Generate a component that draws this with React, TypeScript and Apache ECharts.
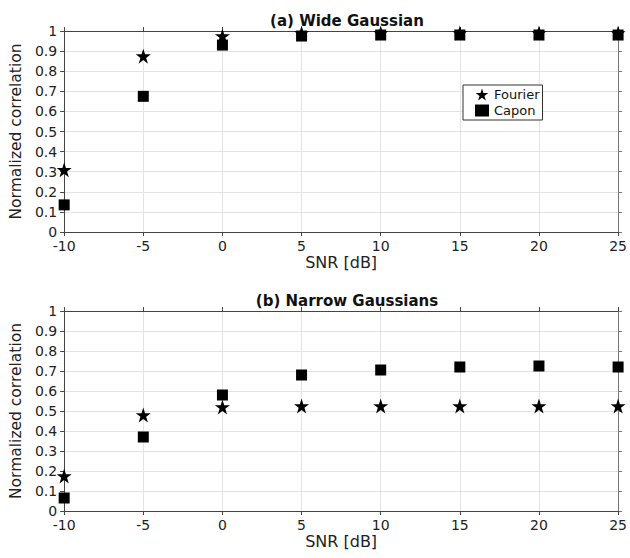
import React, { useEffect, useRef } from "react";
import * as echarts from "echarts";

const snr = [-10, -5, 0, 5, 10, 15, 20, 25];
const wideFourier = [0.31, 0.875, 0.975, 0.99, 0.99, 0.99, 0.99, 0.99];
const wideCapon = [0.135, 0.675, 0.93, 0.975, 0.98, 0.98, 0.98, 0.98];
const narrowFourier = [0.175, 0.48, 0.52, 0.525, 0.525, 0.525, 0.525, 0.525];
const narrowCapon = [0.065, 0.37, 0.58, 0.68, 0.705, 0.72, 0.725, 0.72];
const titles = ["(a) Wide Gaussian", "(b) Narrow Gaussians"];

const FONT = "'DejaVu Sans', sans-serif";
const STAR =
  "path://M50,0 L61.2,34.5 L97.6,34.5 L68.2,55.9 L79.4,90.5 L50,69.1 L20.6,90.5 L31.8,55.9 L2.4,34.5 L38.8,34.5 Z";

const pair = (ys: number[]) => snr.map((x, i) => [x, ys[i]]);

export default function App() {
  const ref = useRef<HTMLDivElement>(null);
  useEffect(() => {
    if (!ref.current) return;
    const chart = echarts.init(ref.current, null, { renderer: "svg" });
    const grids = [
      { left: 63, right: 8, top: 31, height: 201 },
      { left: 63, right: 8, top: 311, height: 200 },
    ];
    const xAxis: any[] = [];
    const yAxis: any[] = [];
    grids.forEach((_, g) => {
      xAxis.push({
        type: "value",
        gridIndex: g,
        min: -10,
        max: 25,
        interval: 5,
        position: "bottom",
        name: "SNR [dB]",
        nameLocation: "middle",
        nameGap: 22,
        nameTextStyle: { fontFamily: FONT, fontSize: 16, color: "#222" },
        axisLine: { show: true, onZero: false, lineStyle: { color: "#444", width: 1 } },
        axisTick: { show: true, length: 4, lineStyle: { color: "#444" } },
        axisLabel: { fontFamily: FONT, fontSize: 14, lineHeight: 12, color: "#222", margin: 8 },
        splitLine: { show: true, lineStyle: { color: "#e3e3e3", width: 1 } },
      });
      xAxis.push({
        type: "value",
        gridIndex: g,
        min: -10,
        max: 25,
        interval: 5,
        position: "top",
        axisLine: { show: true, onZero: false, lineStyle: { color: "#444", width: 1 } },
        axisTick: { show: true, length: 4, lineStyle: { color: "#444" } },
        axisLabel: { show: false },
        splitLine: { show: false },
      });
      yAxis.push({
        type: "value",
        gridIndex: g,
        min: 0,
        max: 1,
        interval: 0.1,
        position: "left",
        name: "Normalized correlation",
        nameLocation: "middle",
        nameGap: 37,
        nameTextStyle: { fontFamily: FONT, fontSize: 15.5, color: "#222" },
        axisLine: { show: true, onZero: false, lineStyle: { color: "#444", width: 1 } },
        axisTick: { show: true, length: 4, lineStyle: { color: "#444" } },
        axisLabel: {
          fontFamily: FONT,
          fontSize: 14,
          lineHeight: 12,
          color: "#222",
          margin: 7,
          formatter: (v: number) => String(Math.round(v * 10) / 10),
        },
        splitLine: { show: true, lineStyle: { color: "#e3e3e3", width: 1 } },
      });
      yAxis.push({
        type: "value",
        gridIndex: g,
        min: 0,
        max: 1,
        interval: 0.1,
        position: "right",
        axisLine: { show: true, onZero: false, lineStyle: { color: "#777", width: 1 } },
        axisTick: { show: true, length: 4, lineStyle: { color: "#777" } },
        axisLabel: { show: false },
        splitLine: { show: false },
      });
    });
    const mk = (name: string, data: number[], g: number) => ({
      type: "scatter",
      name,
      xAxisIndex: g * 2,
      yAxisIndex: g * 2,
      data: pair(data),
      clip: false,
      symbol: name === "Fourier" ? STAR : "rect",
      symbolSize: name === "Fourier" ? 15 : 11,
      itemStyle: { color: "#000", opacity: 1 },
      z: 5,
    });
    chart.setOption({
      animation: false,
      backgroundColor: "#fff",
      title: [
        {
          text: titles[0],
          left: 342,
          top: 8,
          textAlign: "center",
          textStyle: { fontFamily: FONT, fontSize: 15, fontWeight: "bold", color: "#111" },
        },
        {
          text: titles[1],
          left: 342,
          top: 288,
          textAlign: "center",
          textStyle: { fontFamily: FONT, fontSize: 15, fontWeight: "bold", color: "#111" },
        },
      ],
      legend: {
        data: ["Fourier", "Capon"],
        orient: "vertical",
        left: 463,
        top: 85,
        itemWidth: 14,
        itemHeight: 12,
        itemGap: 3,
        padding: [3, 3, 3, 12],
        borderColor: "#333",
        borderWidth: 1,
        backgroundColor: "#fff",
        textStyle: { fontFamily: FONT, fontSize: 13, color: "#111" },
      },
      grid: grids,
      xAxis,
      yAxis,
      series: [
        mk("Fourier", wideFourier, 0),
        mk("Capon", wideCapon, 0),
        mk("Fourier", narrowFourier, 1),
        mk("Capon", narrowCapon, 1),
      ],
    });
    return () => chart.dispose();
  }, []);
  return <div ref={ref} style={{ width: 630, height: 558, position: "absolute", left: 0, top: 0 }} />;
}
